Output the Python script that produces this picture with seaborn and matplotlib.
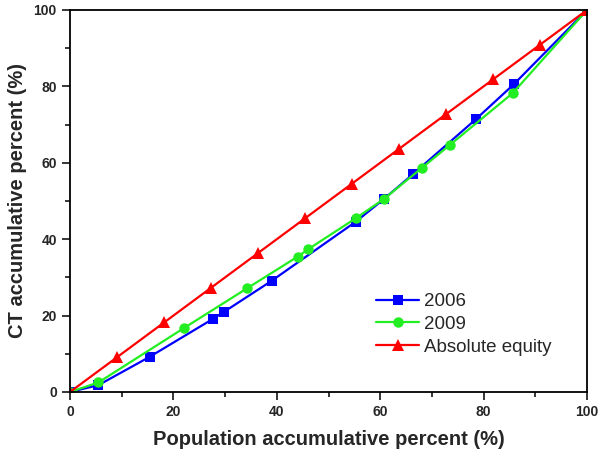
import numpy as np
import pandas as pd
import matplotlib
matplotlib.use("Agg")
import matplotlib.pyplot as plt
from matplotlib.ticker import MultipleLocator
import seaborn as sns

# values
x_2006 = [0, 5.5, 15.4, 27.6, 29.7, 39.0, 55.3, 60.7, 66.4, 78.5, 85.8, 100]
y_2006 = [0, 1.8, 9.2, 19.1, 20.9, 29.1, 44.6, 50.5, 57.1, 71.4, 80.5, 100]

x_2009 = [0, 5.5, 22.0, 34.2, 44.0, 46.1, 55.3, 60.7, 68.0, 73.5, 85.6, 100]
y_2009 = [0, 2.5, 16.7, 27.1, 35.4, 37.4, 45.5, 50.5, 58.6, 64.7, 78.2, 100]

x_equity = [0, 9.1, 18.2, 27.3, 36.4, 45.5, 54.5, 63.6, 72.7, 81.8, 90.9, 100]
y_equity = [0, 9.1, 18.2, 27.3, 36.4, 45.5, 54.5, 63.6, 72.7, 81.8, 90.9, 100]

series_names = ["2006", "2009", "Absolute equity"]

sns.set_style("white")
plt.rcParams['font.family'] = ['Liberation Sans', 'DejaVu Sans']

fig = plt.figure(figsize=(6, 4.53), dpi=100)
ax = fig.add_axes([0.1167, 0.1347, 0.8617, 0.8433])

styles = [
    (x_2006, y_2006, "#0000ff", "s", 6.5),
    (x_2009, y_2009, "#22ee22", "o", 7.5),
    (x_equity, y_equity, "#ff0000", "^", 8.5),
]
for name, (xs, ys, col, mk, ms) in zip(series_names, styles):
    df = pd.DataFrame({"x": xs, "y": ys})
    sns.lineplot(data=df, x="x", y="y", ax=ax, color=col, marker=mk,
                 markersize=ms, markeredgewidth=0, linewidth=1.6,
                 sort=False, label=name)

ax.set_xlim(0, 100)
ax.set_ylim(0, 100)
ax.xaxis.set_major_locator(MultipleLocator(20))
ax.xaxis.set_minor_locator(MultipleLocator(10))
ax.yaxis.set_major_locator(MultipleLocator(20))
ax.yaxis.set_minor_locator(MultipleLocator(10))
ax.tick_params(which="major", direction="out", length=6, width=1.3,
               labelsize=10, bottom=True, left=True, top=False, right=False)
ax.tick_params(which="minor", direction="out", length=3.5, width=1.3,
               bottom=True, left=True, top=False, right=False)
for lbl in ax.get_xticklabels() + ax.get_yticklabels():
    lbl.set_fontweight("bold")
for sp in ax.spines.values():
    sp.set_linewidth(1.3)
    sp.set_color("black")

ax.set_xlabel("Population accumulative percent (%)", fontsize=14.5,
              fontweight="bold", labelpad=8)
ax.set_ylabel("CT accumulative percent (%)", fontsize=14.5,
              fontweight="bold", labelpad=5)

ax.legend(loc="upper left", bbox_to_anchor=(0.592, 0.259), frameon=False,
          fontsize=13.5, handlelength=2.3, labelspacing=0.3,
          handletextpad=0.27, borderpad=0, borderaxespad=0)

fig.savefig("out.png", dpi=100)
